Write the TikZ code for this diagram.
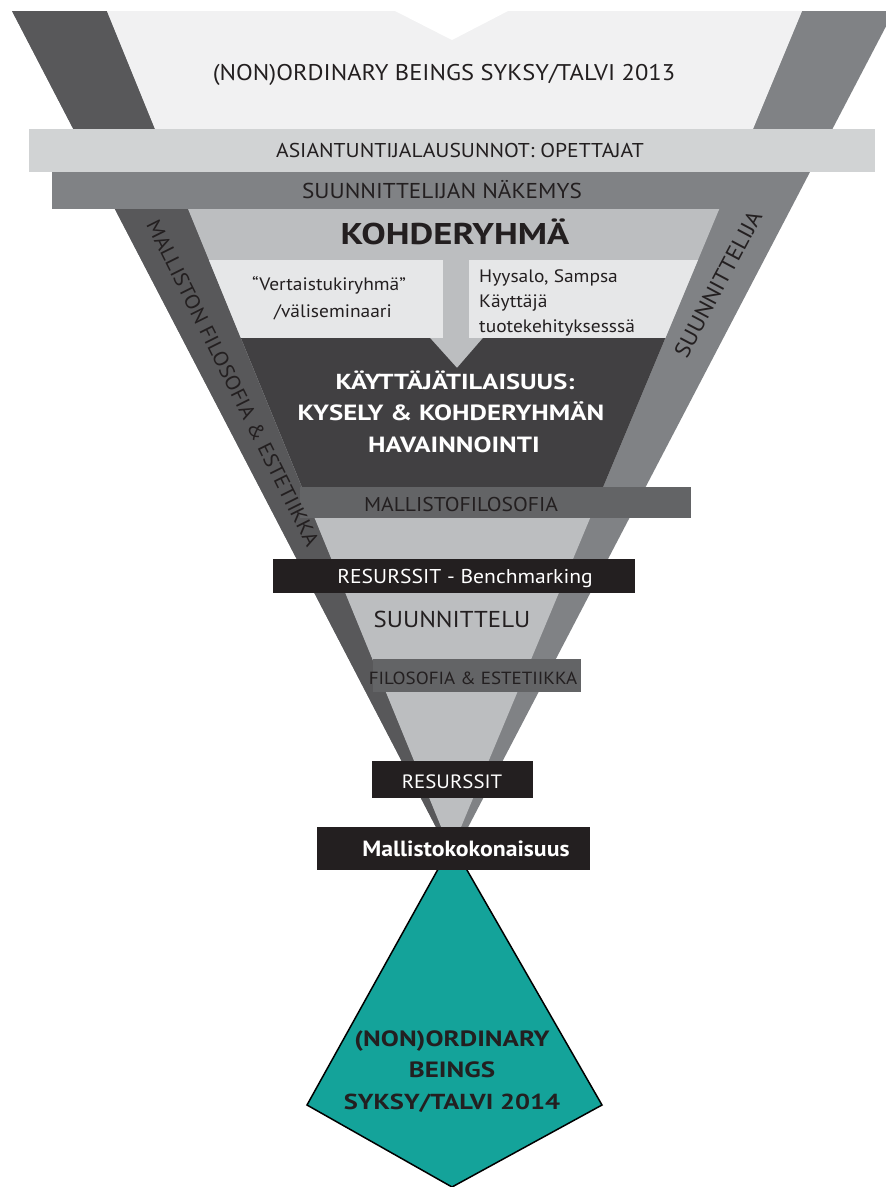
\documentclass[tikz,border=0pt]{standalone}
\usepackage{fontspec}
\setmainfont[FakeStretch=1.08]{PT Sans}
\newfontfamily\widefont[FakeStretch=1.22]{PT Sans}

\definecolor{bandleft}{HTML}{58585A}
\definecolor{bandright}{HTML}{808285}
\definecolor{cone}{HTML}{BCBEC0}
\definecolor{toplight}{HTML}{F1F1F2}
\definecolor{barlight}{HTML}{D1D3D4}
\definecolor{boxlight}{HTML}{E6E7E8}
\definecolor{darkfill}{HTML}{414042}
\definecolor{midbar}{HTML}{636466}
\definecolor{ink}{HTML}{231F20}
\definecolor{tealfill}{HTML}{14A39A}

\begin{document}
\begin{tikzpicture}[x=1pt,y=-1pt,
    lbl/.style={inner sep=0pt,anchor=base,text=ink},
    wlbl/.style={inner sep=0pt,anchor=base,text=white},
    side/.style={inner sep=0pt,text=ink}]
  \useasboundingbox[fill=white] (0,0) rectangle (886,1187);
  \clip (0,0) rectangle (886,1187);
  % funnel
  \fill[bandright] (12,11) -- (894,11) -- (452,858) -- cycle;
  \fill[bandleft] (12,11) -- (107,11) -- (451,851) -- (452,858) -- cycle;
  \fill[cone] (107,11) -- (802,11) -- (451,851) -- cycle;
  \fill[toplight] (107,11) -- (802,11) -- (753,129) -- (155,129) -- cycle;
  \fill[white] (395,11) -- (452,40) -- (508,11) -- cycle;
  % bars on top
  \fill[barlight] (29,129) rectangle (875,172);
  \fill[bandright] (52,172) rectangle (790,209);
  \begin{scope}
    \clip (107,11) -- (802,11) -- (451,851) -- cycle;
    \fill[boxlight] (100,260) rectangle (443,338);
    \fill[boxlight] (469,260) rectangle (810,338);
    \fill[darkfill] (100,338) -- (430,338) -- (457,368) -- (483,338) -- (810,338)
      -- (810,487) -- (100,487) -- cycle;
  \end{scope}
  \fill[midbar] (300,487) rectangle (691,518);
  \fill[ink] (273,559) rectangle (635,593);
  \fill[midbar] (373,659) rectangle (581,692);
  \fill[ink] (372,761) rectangle (533,798);
  % next season
  \filldraw[fill=tealfill,draw=black,line width=1.5] (452,844) -- (602,1105) -- (452,1187) -- (307,1105) -- cycle;
  \fill[ink] (317,827) rectangle (590,870);

  % texts
  \node[lbl,font=\fontsize{22.7}{26}\selectfont] (title) at (444,80) {(NON)ORDINARY BEINGS SYKSY/TALVI 2013};
  \node[lbl,font=\fontsize{20}{24}\selectfont] (experts) at (460,157) {ASIANTUNTIJALAUSUNNOT: OPETTAJAT};
  \node[lbl,font=\fontsize{21.5}{24}\selectfont] (vision) at (442,198) {SUUNNITTELIJAN NÄKEMYS};
  \node[lbl,font=\widefont\bfseries\fontsize{30}{34}\selectfont] (target) at (455,244) {KOHDERYHMÄ};
  \node[lbl,font=\fontsize{18}{21}\selectfont] (peer1) at (329,290) {“Vertaistukiryhmä”};
  \node[lbl,font=\fontsize{18}{21}\selectfont] (peer2) at (333,317) {/väliseminaari};
  \node[lbl,anchor=base west,font=\fontsize{18}{21}\selectfont] (ref1) at (479,282) {Hyysalo, Sampsa};
  \node[lbl,anchor=base west,font=\fontsize{18}{21}\selectfont] (ref2) at (479,307) {Käyttäjä};
  \node[lbl,anchor=base west,font=\fontsize{18}{21}\selectfont] (ref3) at (479,332) {tuotekehityksesssä};
  \node[wlbl,font=\widefont\bfseries\fontsize{21.7}{26}\selectfont] (event1) at (455,389) {KÄYTTÄJÄTILAISUUS:};
  \node[wlbl,font=\widefont\bfseries\fontsize{22}{26}\selectfont] (event2) at (451,420) {KYSELY \& KOHDERYHMÄN};
  \node[wlbl,font=\widefont\bfseries\fontsize{22}{26}\selectfont] (event3) at (454,452) {HAVAINNOINTI};
  \node[lbl,font=\fontsize{20}{24}\selectfont] (philo) at (461,511) {MALLISTOFILOSOFIA};
  \node[wlbl,font=\fontsize{20}{24}\selectfont] (bench) at (465,583) {RESURSSIT - Benchmarking};
  \node[lbl,font=\fontsize{23}{26}\selectfont] (design) at (452,627) {SUUNNITTELU};
  \node[lbl,font=\fontsize{17.6}{21}\selectfont] (aesth) at (473,684) {FILOSOFIA \& ESTETIIKKA};
  \node[wlbl,font=\fontsize{19.3}{23}\selectfont] (res) at (452,788) {RESURSSIT};
  \node[wlbl,font=\bfseries\fontsize{22}{26}\selectfont] (whole) at (466,856) {Mallistokokonaisuus};
  \node[lbl,font=\widefont\bfseries\fontsize{22.1}{26}\selectfont] (next1) at (452,1046) {(NON)ORDINARY};
  \node[lbl,font=\widefont\bfseries\fontsize{22.1}{26}\selectfont] (next2) at (452,1077) {BEINGS};
  \node[lbl,font=\widefont\bfseries\fontsize{21.7}{26}\selectfont] (next3) at (452,1109) {SYKSY/TALVI 2014};
  \node[side,rotate=-63.5,font=\fontsize{20.5}{24}\selectfont] (leftband) at (233,383) {MALLISTON FILOSOFIA \& ESTETIIKKA};
  \node[side,rotate=62,font=\fontsize{22}{26}\selectfont] (rightband) at (718,284) {SUUNNITTELIJA};
\end{tikzpicture}
\end{document}
